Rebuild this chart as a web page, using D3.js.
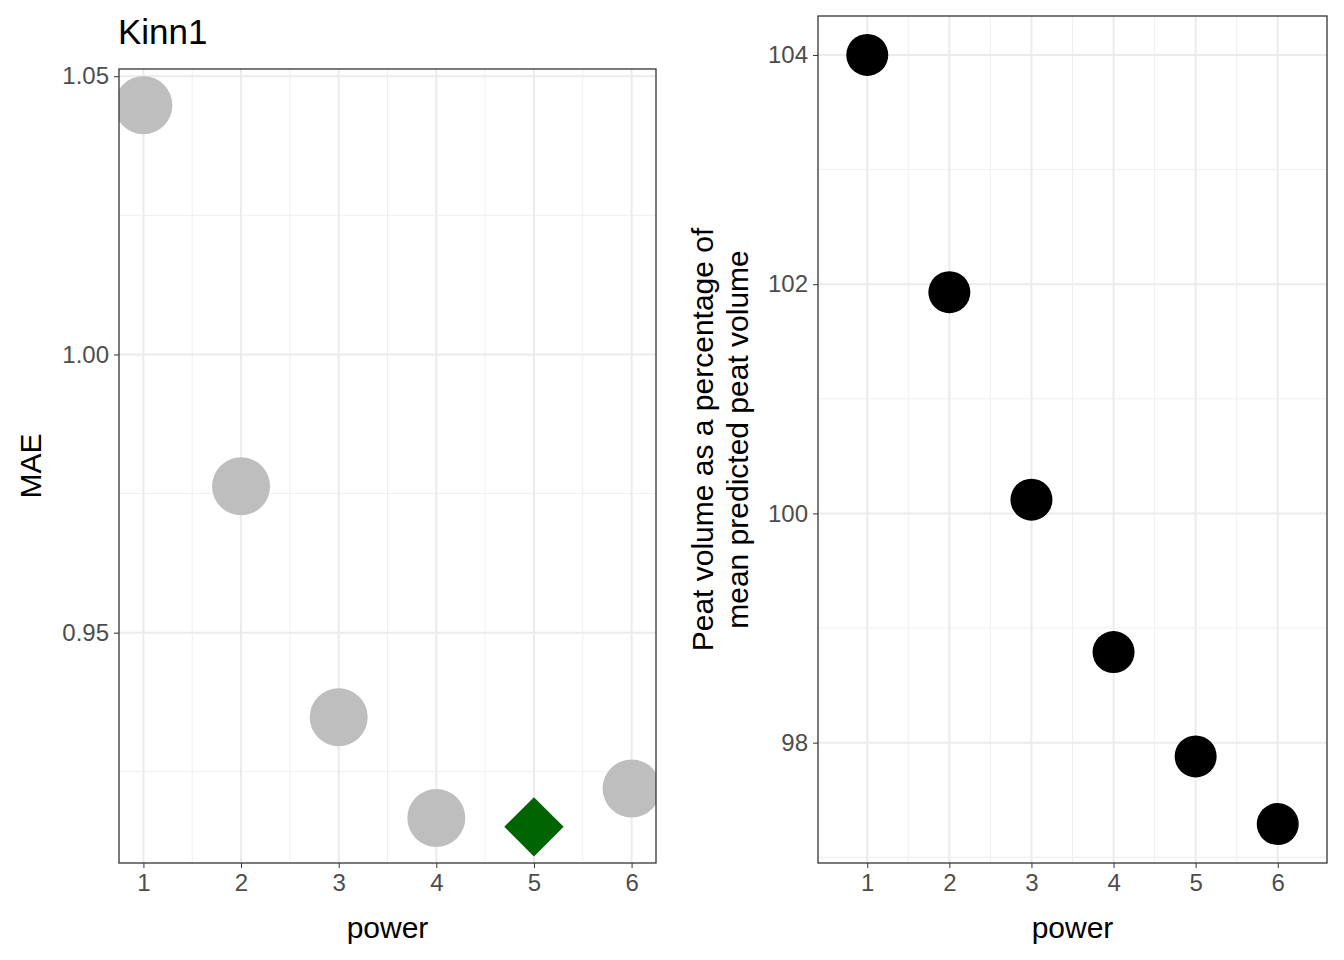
<!DOCTYPE html>
<html><head><meta charset="utf-8">
<script src="https://cdn.jsdelivr.net/npm/d3@7"></script>
<style>body{margin:0;background:#fff}text{font-family:"Liberation Sans",Arial,sans-serif}</style>
</head><body><svg width="1344" height="960"></svg>
<script>
const powers = [1, 2, 3, 4, 5, 6];
const mae = [1.0448, 0.9763, 0.9348, 0.9167, 0.9151, 0.9220];
const best = 5;
const peatPct = [104.0, 101.93, 100.12, 98.79, 97.88, 97.29];
const maeTicks = [0.95, 1.00, 1.05];
const pctTicks = [98, 100, 102, 104];

const svg = d3.select("svg");

function panel(box, xDom, yDom, ticks, minor, fmt, yTitleLines, titleX, id) {
  const x = d3.scaleLinear().domain(xDom).range([box.x0, box.x1]);
  const y = d3.scaleLinear().domain(yDom).range([box.y1, box.y0]);
  const g = svg.append("g");
  g.append("clipPath").attr("id", id).append("rect")
    .attr("x", box.x0).attr("y", box.y0).attr("width", box.x1 - box.x0).attr("height", box.y1 - box.y0);
  const grid = g.append("g");
  const xMinor = powers.slice(0, -1).map(p => p + 0.5);
  grid.selectAll(".xm").data(xMinor).join("line")
    .attr("x1", d => x(d)).attr("x2", d => x(d)).attr("y1", box.y0).attr("y2", box.y1)
    .attr("stroke", "#ebebeb").attr("stroke-width", 0.8);
  grid.selectAll(".ym").data(minor).join("line")
    .attr("y1", d => y(d)).attr("y2", d => y(d)).attr("x1", box.x0).attr("x2", box.x1)
    .attr("stroke", "#ebebeb").attr("stroke-width", 0.8);
  grid.selectAll(".xM").data(powers).join("line")
    .attr("x1", d => x(d)).attr("x2", d => x(d)).attr("y1", box.y0).attr("y2", box.y1)
    .attr("stroke", "#ebebeb").attr("stroke-width", 2);
  grid.selectAll(".yM").data(ticks).join("line")
    .attr("y1", d => y(d)).attr("y2", d => y(d)).attr("x1", box.x0).attr("x2", box.x1)
    .attr("stroke", "#ebebeb").attr("stroke-width", 2);
  const marks = g.append("g").attr("clip-path", `url(#${id})`);
  g.append("rect").attr("x", box.x0).attr("y", box.y0)
    .attr("width", box.x1 - box.x0).attr("height", box.y1 - box.y0)
    .attr("fill", "none").attr("stroke", "#333").attr("stroke-width", 1.3);
  const xa = g.append("g").attr("transform", `translate(0,${box.y1})`)
    .call(d3.axisBottom(x).tickValues(powers).tickFormat(d3.format("d")).tickSize(5).tickPadding(6));
  const ya = g.append("g").attr("transform", `translate(${box.x0},0)`)
    .call(d3.axisLeft(y).tickValues(ticks).tickFormat(fmt).tickSize(5).tickPadding(5));
  [xa, ya].forEach(a => {
    a.attr("font-size", null).attr("font-family", null);
    a.select(".domain").remove();
    a.selectAll("line").attr("stroke", "#333");
    a.selectAll("text").attr("fill", "#4d4d4d").style("font-size", "24px");
  });
  g.append("text").attr("x", (box.x0 + box.x1) / 2).attr("y", 938)
    .attr("text-anchor", "middle").style("font-size", "30px").text("power");
  const cy = (box.y0 + box.y1) / 2;
  yTitleLines.forEach((t, i) => {
    g.append("text").attr("transform", `translate(${titleX[i]},${cy}) rotate(-90)`)
      .attr("text-anchor", "middle").style("font-size", "30px").text(t);
  });
  return { x, y, marks };
}

const L = panel({ x0: 119, x1: 656, y0: 69, y1: 863 }, [0.75, 6.25], [0.9086, 1.0513],
  maeTicks, [0.925, 0.975, 1.025], d3.format(".2f"), ["MAE"], [41], "cl");
L.marks.selectAll("circle").data(powers.filter(p => p !== best)).join("circle")
  .attr("cx", d => L.x(d)).attr("cy", d => L.y(mae[d - 1])).attr("r", 29).attr("fill", "#bebebe");
L.marks.append("path")
  .attr("d", d3.symbol(d3.symbolSquare, 42 * 42)())
  .attr("transform", `translate(${L.x(best)},${L.y(mae[best - 1])}) rotate(45)`)
  .attr("fill", "#006400");
svg.append("text").attr("x", 118).attr("y", 44).style("font-size", "35px").text("Kinn1");

const R = panel({ x0: 818, x1: 1327, y0: 16, y1: 863 }, [0.4, 6.6], [96.95, 104.34],
  pctTicks, [97, 99, 101, 103], d3.format("d"),
  ["Peat volume as a percentage of", "mean predicted peat volume"], [713, 748], "cr");
R.marks.selectAll("circle").data(powers).join("circle")
  .attr("cx", d => R.x(d)).attr("cy", d => R.y(peatPct[d - 1])).attr("r", 21).attr("fill", "#000");
</script></body></html>
